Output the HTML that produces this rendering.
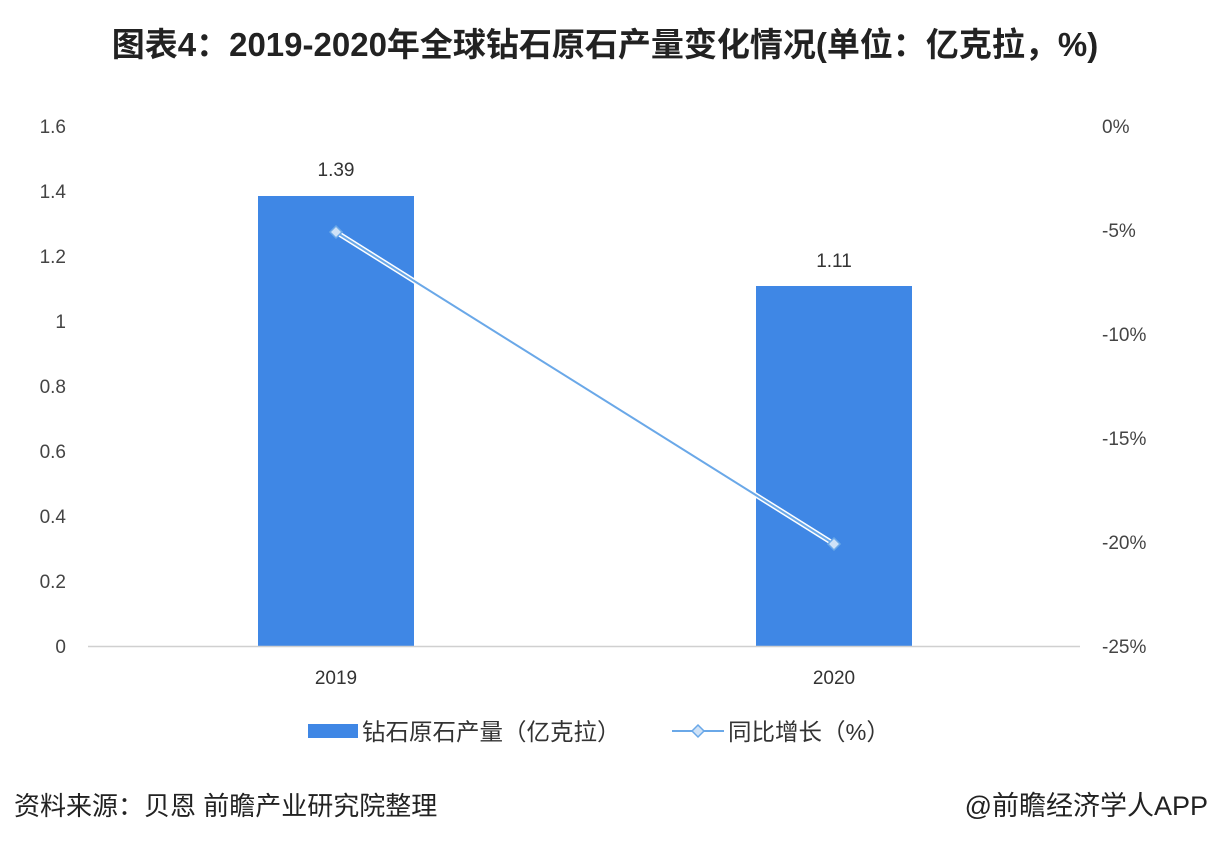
<!DOCTYPE html>
<html><head><meta charset="utf-8"><style>
body{margin:0;background:#fff;}
svg{display:block;}
</style></head><body>
<svg width="1210" height="848" xmlns="http://www.w3.org/2000/svg" font-family="Liberation Sans, Noto Sans CJK SC, sans-serif">
<rect width="1210" height="848" fill="#fff"/>
<text x="605" y="56" text-anchor="middle" font-size="33" font-weight="bold" fill="#222">图表4：2019-2020年全球钻石原石产量变化情况(单位：亿克拉，%)</text>
<g font-size="19" fill="#444" text-anchor="end">
<text x="66" y="133">1.6</text><text x="66" y="198">1.4</text><text x="66" y="263">1.2</text>
<text x="66" y="328">1</text><text x="66" y="393">0.8</text><text x="66" y="458">0.6</text>
<text x="66" y="523">0.4</text><text x="66" y="588">0.2</text><text x="66" y="653">0</text>
</g>
<g font-size="19" fill="#444" text-anchor="start">
<text x="1102" y="133">0%</text><text x="1102" y="237">-5%</text><text x="1102" y="341">-10%</text>
<text x="1102" y="445">-15%</text><text x="1102" y="549">-20%</text><text x="1102" y="653">-25%</text>
</g>
<rect x="258" y="196" width="156" height="450" fill="#3f87e5"/>
<rect x="756" y="286" width="156" height="360" fill="#3f87e5"/>
<line x1="88" y1="646.5" x2="1080" y2="646.5" stroke="#d0d0d0" stroke-width="1.5"/>
<g font-size="19" fill="#333" text-anchor="middle">
<text x="336" y="176">1.39</text><text x="834" y="267">1.11</text>
<text x="336" y="684">2019</text><text x="834" y="684">2020</text>
</g>
<line x1="336" y1="232" x2="834" y2="544" stroke="#fff" stroke-width="5"/>
<line x1="336" y1="232" x2="834" y2="544" stroke="#6aa8e8" stroke-width="2"/>
<path d="M336 226 L342 232 L336 238 L330 232Z" fill="#cfe2f7" stroke="#6aa8e8" stroke-width="1.5"/>
<path d="M834 538 L840 544 L834 550 L828 544Z" fill="#cfe2f7" stroke="#6aa8e8" stroke-width="1.5"/>
<rect x="308" y="724" width="50" height="14" fill="#3f87e5"/>
<text x="362" y="740" font-size="23.5" fill="#333">钻石原石产量（亿克拉）</text>
<line x1="672" y1="731" x2="724" y2="731" stroke="#6aa8e8" stroke-width="2"/>
<path d="M698 725 L704 731 L698 737 L692 731Z" fill="#cfe2f7" stroke="#6aa8e8" stroke-width="1.5"/>
<text x="728" y="740" font-size="23.5" fill="#333">同比增长（%）</text>
<text x="14" y="815" font-size="26" fill="#222">资料来源：贝恩 前瞻产业研究院整理</text>
<text x="1208" y="815" font-size="27" fill="#222" text-anchor="end">@前瞻经济学人APP</text>
</svg>
</body></html>
